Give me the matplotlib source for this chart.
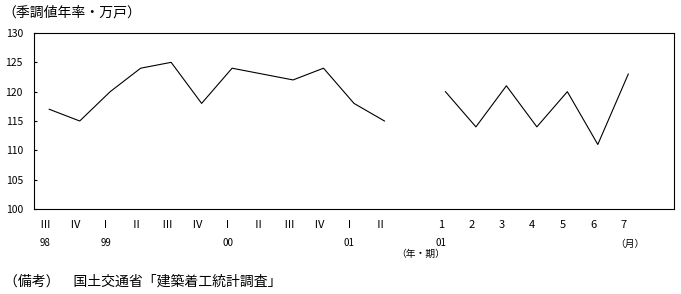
import matplotlib
matplotlib.use("Agg")
import matplotlib.pyplot as plt
import matplotlib.transforms as mtransforms

plt.rcParams['font.family'] = ['Noto Sans CJK JP', 'DejaVu Sans']

# Data
quarter_labels = ["Ⅲ", "Ⅳ", "Ⅰ", "Ⅱ", "Ⅲ", "Ⅳ", "Ⅰ", "Ⅱ", "Ⅲ", "Ⅳ", "Ⅰ", "Ⅱ"]
quarter_years = ["98", "", "99", "", "", "", "00", "", "", "", "01", ""]
quarter_values = [117, 115, 120, 124, 125, 118, 124, 123, 122, 124, 118, 115]
month_labels = ["1", "2", "3", "4", "5", "6", "7"]
month_years = ["01", "", "", "", "", "", ""]
month_values = [120, 114, 121, 114, 120, 111, 123]
y_ticks = [100, 105, 110, 115, 120, 125, 130]

gap = 1
xq = list(range(len(quarter_values)))
xm = [len(quarter_values) + gap + i for i in range(len(month_values))]

fig = plt.figure(figsize=(6.81, 2.94), dpi=100)
ax = fig.add_axes([34/681, 1 - 209/294, (674 - 34)/681, (209 - 33)/294])

ax.plot(xq, quarter_values, color="black", lw=0.8)
ax.plot(xm, month_values, color="black", lw=0.8)

ax.set_xlim(-0.5, xm[-1] + 1.5)
ax.set_ylim(100, 130)
ax.set_yticks(y_ticks)
ax.set_yticklabels([str(v) for v in y_ticks], fontsize=7.5)
ax.tick_params(axis="y", direction="in", length=2, width=0.8, pad=8)
for s in ax.spines.values():
    s.set_linewidth(0.8)

xticks = xq + xm
ax.set_xticks([x - 0.15 for x in xticks])
ax.set_xticklabels(quarter_labels + month_labels, fontsize=8)
ax.tick_params(axis="x", length=0, pad=8)

trans = mtransforms.blended_transform_factory(ax.transData, fig.transFigure)
for x, y in zip(xticks, quarter_years + month_years):
    if y:
        ax.text(x - 0.15, 1 - 243/294, y, transform=trans, ha="center", va="center", fontsize=7)

ax.text(xq[-1] + 1.2, 1 - 254/294, "（年・期）", transform=trans, ha="center", va="center", fontsize=7)
ax.text(xm[-1] + 0.05, 1 - 244/294, "（月）", transform=trans, ha="center", va="center", fontsize=7)

fig.text(2/681, 1 - 12/294, "（季調値年率・万戸）", ha="left", va="center", fontsize=10)
fig.text(4/681, 1 - 282/294, "（備考）　国土交通省「建築着工統計調査」", ha="left", va="center", fontsize=10)

fig.savefig("out.png", dpi=100)
